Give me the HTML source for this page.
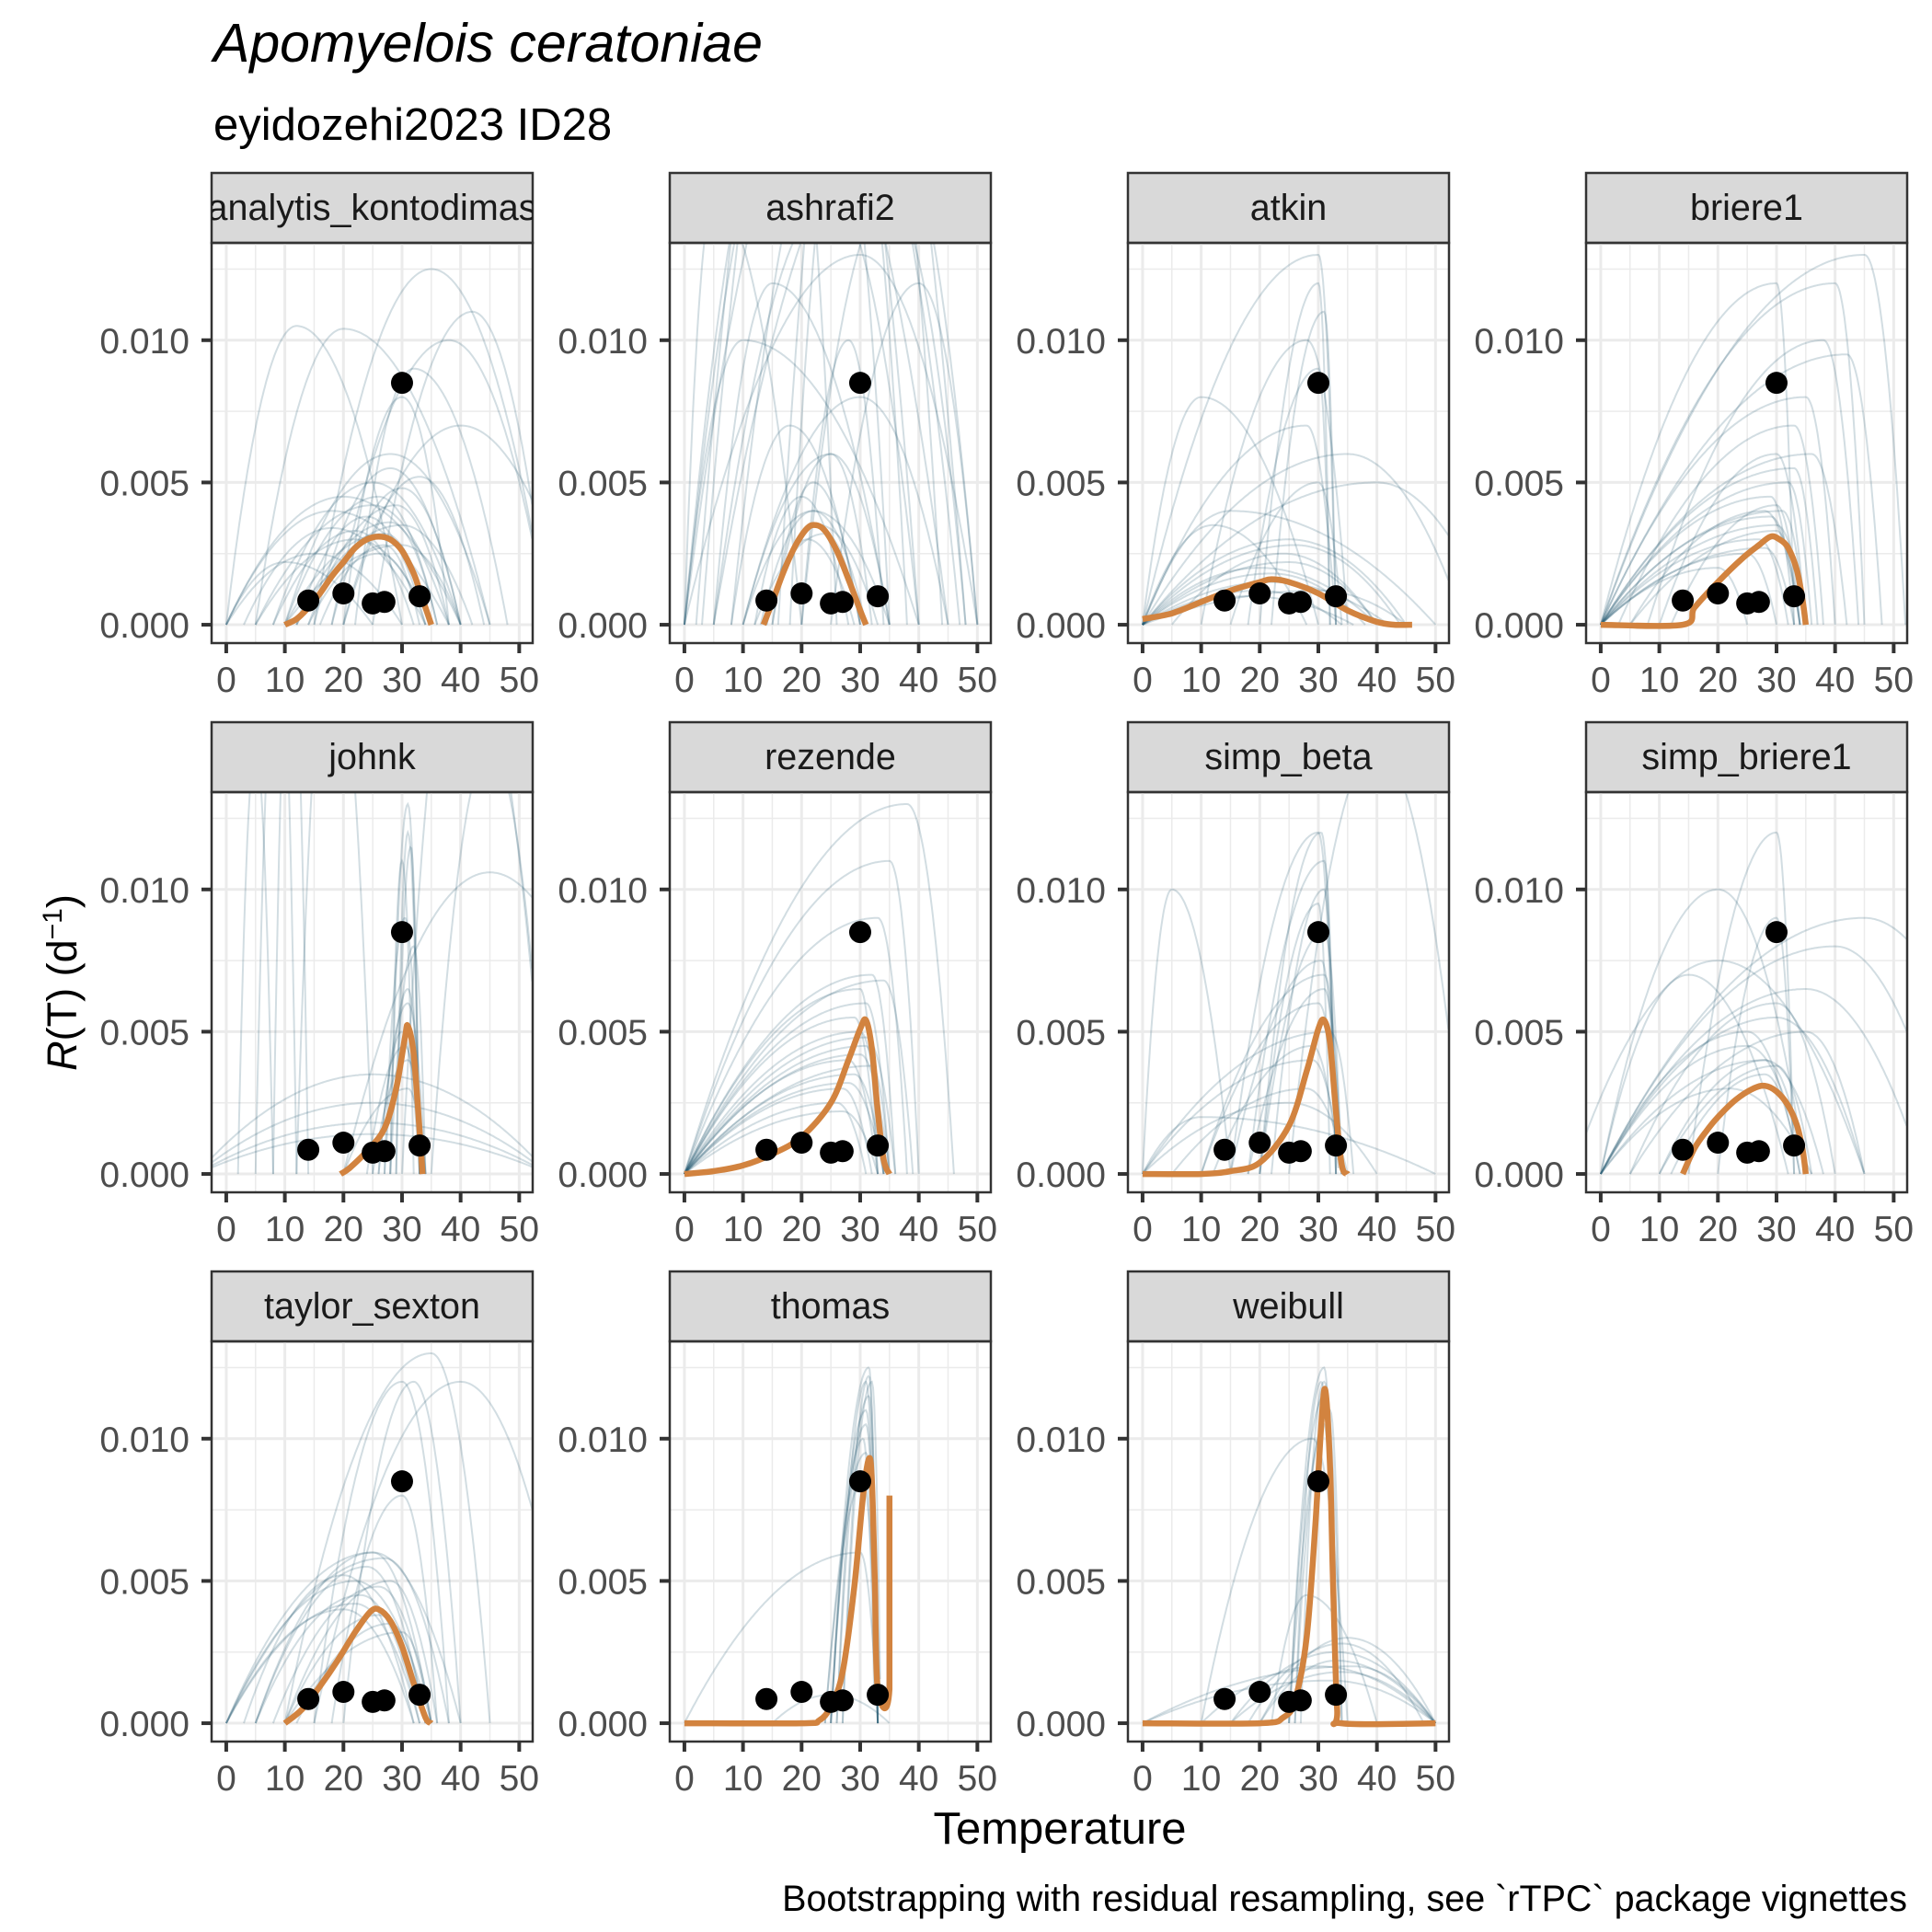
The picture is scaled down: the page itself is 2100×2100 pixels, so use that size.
<!DOCTYPE html>
<html><head><meta charset="utf-8"><style>
html,body{margin:0;padding:0;background:#fff;}
svg{display:block;font-family:"Liberation Sans",Arial,sans-serif;}
</style></head><body>
<svg id="chart" xmlns="http://www.w3.org/2000/svg" width="2100" height="2100" viewBox="0 0 2100 2100">
<rect width="2100" height="2100" fill="#fff"/>
<text x="232" y="67" font-size="59" font-style="italic" fill="#000">Apomyelois ceratoniae</text>
<text x="232" y="152" font-size="49" fill="#000">eyidozehi2023 ID28</text>
<text x="1152" y="2004" font-size="49" text-anchor="middle" fill="#000">Temperature</text>
<text transform="translate(83,1068) rotate(-90)" font-size="45" text-anchor="middle" fill="#000"><tspan font-style="italic">R</tspan>(T) (d<tspan font-size="30" dy="-16">−1</tspan><tspan dy="16">)</tspan></text>
<text x="2073" y="2077" font-size="39.5" text-anchor="end" fill="#000">Bootstrapping with residual resampling, see `rTPC` package vignettes</text>
<g id="panels"></g>
</svg>
<script>
const models = ["analytis_kontodimas","ashrafi2","atkin","briere1","johnk","rezende","simp_beta","simp_briere1","taylor_sexton","thomas","weibull"];
const obsTemp = [14,20,25,27,30,33];
const obsRate = [0.00085,0.0011,0.00075,0.0008,0.0085,0.001];
const xTicks = [0,10,20,30,40,50];
const xTickLabels = ["0","10","20","30","40","50"];
const yTicks = [0,0.005,0.01];
const yTickLabels = ["0.000","0.005","0.010"];
const xMinor = [5,15,25,35,45];
const yMinor = [0.0025,0.0075,0.0125];

const fit_analytis_kontodimas = [[10,0],[12,0.0002],[14,0.0006],[16,0.0011],[18,0.0017],[20,0.0022],[22,0.0027],[24,0.003],[26,0.0031],[28,0.003],[30,0.0026],[32,0.0018],[33,0.0012],[34,0.0006],[35,0]];
const fit_ashrafi2 = [[13.5,0],[15,0.0008],[17,0.0019],[19,0.0028],[21,0.0034],[22.5,0.0035],[24,0.0033],[26,0.0026],[28,0.0016],[30,0.0005],[31,0]];
const fit_atkin = [[0,0.0002],[5,0.0004],[10,0.0008],[15,0.0012],[20,0.0015],[22,0.0016],[25,0.0015],[30,0.0011],[35,0.0005],[40,0.0001],[43,0],[46,0]];
const fit_briere1 = [[0,0],[14,0],[16,0.0006],[20,0.0015],[24,0.0023],[27,0.0028],[29,0.0031],[30.5,0.003],[32,0.0027],[33.5,0.0019],[34.5,0.0008],[35,0]];
const fit_johnk = [[19.5,0],[21,0.0002],[24,0.0008],[27,0.0016],[29,0.003],[30.5,0.0048],[31,0.0052],[32,0.0042],[33,0.0015],[33.5,0]];
const fit_rezende = [[0,0],[5,0.0001],[10,0.0003],[15,0.0007],[20,0.0013],[25,0.0025],[28,0.004],[30,0.0051],[31,0.0054],[32,0.0044],[33,0.0022],[34,0.0005],[35,0]];
const fit_simp_beta = [[0,0],[10,0],[15,0.0001],[20,0.0004],[25,0.0017],[28,0.0036],[30,0.0051],[31,0.0054],[32,0.0046],[33,0.0022],[34,0.0003],[35,0]];
const fit_simp_briere1 = [[14,0],[16,0.0009],[18,0.0015],[20,0.002],[23,0.0026],[26,0.003],[28,0.0031],[30,0.0029],[32,0.0024],[33.5,0.0017],[34.5,0.0008],[35,0]];
const fit_taylor_sexton = [[10,0],[13,0.0005],[16,0.0013],[19,0.0022],[22,0.0032],[24.5,0.0039],[26,0.004],[28,0.0036],[30,0.0027],[32,0.0014],[34,0.0002],[35,0]];
const fit_thomas = [[0,0],[20,0],[23,0.0001],[25,0.0006],[27,0.0018],[29,0.0048],[30.5,0.008],[31.5,0.0093],[32,0.0085],[32.5,0.005],[33,0.0012],[35,0.0012],[35,0.008]];
const fit_weibull = [[0,0],[20,0],[24,0.0002],[26,0.0008],[28,0.003],[29.5,0.007],[30.5,0.0105],[31.2,0.0117],[32,0.009],[32.5,0.005],[33.2,0.0005],[34,0],[50,0]];

const boot_analytis_kontodimas = [[0,12,30,0.0105],[5,20,45,0.0104],[8,25,40,0.005],[0,18,38,0.004],[10,28,45,0.006],[15,35,55,0.0125],[12,30,42,0.0035],[5,22,35,0.003],[18,38,55,0.01],[20,30,38,0.008],[10,26,36,0.0045],[0,15,30,0.0025],[15,28,40,0.0055],[20,40,60,0.007],[12,24,34,0.0038],[22,32,48,0.009],[10,27,35,0.0032],[14,26,34,0.0025],[0,20,40,0.0045],[5,25,38,0.0042],[12,28,36,0.0036],[16,27,33,0.0028],[18,30,40,0.0048],[0,10,25,0.0022],[8,22,32,0.0033],[20,33,44,0.0052],[14,29,38,0.0042],[25,42,55,0.011],[3,18,34,0.0034],[10,30,40,0.0028]];
const boot_ashrafi2 = [[0,20,45,0.02],[5,25,40,0.015],[13,22,31,0.004],[10,25,35,0.006],[0,30,50,0.013],[15,22,30,0.005],[5,15,35,0.012],[18,28,38,0.02],[0,10,40,0.01],[12,20,28,0.0045],[20,35,48,0.015],[8,18,30,0.007],[10,30,45,0.008],[2,25,48,0.03],[14,23,33,0.0035],[25,40,50,0.012],[0,5,20,0.015],[15,25,32,0.006],[3,22,40,0.025],[8,28,47,0.02],[0,18,26,0.02],[16,30,44,0.025],[10,22,35,0.004],[12,24,30,0.0032],[20,28,34,0.01],[5,35,50,0.018],[14,21,29,0.003],[0,25,35,0.02]];
const boot_atkin = [[0,20,40,0.002],[0,25,45,0.003],[0,30,33,0.013],[10,28,35,0.01],[0,15,50,0.004],[0,22,42,0.0015],[20,30,32,0.012],[0,35,55,0.006],[0,10,30,0.008],[5,24,40,0.0025],[0,28,33,0.007],[0,40,60,0.005],[15,30,34,0.005],[0,18,36,0.001],[0,22,38,0.0018],[0,25,40,0.0022],[0,30,45,0.0012],[18,30,32,0.009],[22,31,33,0.011],[0,12,28,0.0035],[0,26,44,0.0028],[0,20,34,0.0012]];
const boot_briere1 = [[0,30,35,0.0035],[0,32,36,0.005],[0,35,40,0.008],[5,28,34,0.004],[0,40,45,0.012],[0,25,30,0.0025],[10,30,35,0.006],[0,45,52,0.013],[0,20,25,0.002],[3,33,38,0.007],[0,29,33,0.0045],[8,38,44,0.01],[0,30,33,0.012],[0,27,32,0.003],[0,31,35,0.004],[0,29,34,0.0038],[5,30,34,0.0033],[0,33,37,0.0055],[0,28,33,0.0027],[0,36,42,0.006],[0,42,48,0.0095],[12,30,34,0.0042]];
const boot_johnk = [[28,31,33,0.013],[29,31,33,0.012],[27,30.5,33,0.009],[26,31,34,0.006],[28,30,32,0.011],[25,31,34,0.004],[20,31,34,0.003],[5,9,12,0.02],[8,11,14,0.02],[30,40,55,0.02],[28,32,34,0.008],[2,5,8,0.015],[35,45,55,0.015],[12,18,25,0.02],[27,31,33.5,0.0065],[26,30,33,0.005],[29,31.5,33,0.0115],[24,30.5,33.5,0.0045],[-5,25,55,0.0014],[-5,25,55,0.0018],[-5,25,55,0.0035],[-5,25,55,0.0025],[20,45,70,0.0106]];
const boot_rezende = [[0,30,34,0.005],[0,31,35,0.006],[0,28,33,0.004],[0,32,36,0.007],[0,29,34,0.0035],[0,33,38,0.009],[0,35,40,0.011],[0,27,32,0.003],[0,30,33,0.0065],[0,38,46,0.013],[0,26,31,0.0025],[0,31,34,0.0045],[0,30,35,0.0042],[0,29,33,0.0055],[0,32,35,0.0038],[0,28,34,0.0032],[0,31,36,0.0048],[0,27,33,0.0022],[0,34,39,0.0068]];
const boot_simp_beta = [[15,30,33,0.012],[20,31,34,0.0085],[10,30,34,0.006],[0,29,34,0.004],[18,31,33,0.011],[5,28,35,0.003],[20,30,32,0.0095],[0,32,36,0.005],[0,10,50,0.002],[25,40,55,0.015],[0,5,15,0.01],[10,31,34,0.007],[15,30.5,33.5,0.0075],[18,31,34,0.0065],[12,29,33.5,0.0045],[22,31,33,0.01],[0,25,40,0.0025],[20,30.5,33,0.012]];
const boot_simp_briere1 = [[0,20,35,0.01],[5,30,40,0.006],[0,25,34,0.005],[10,28,35,0.004],[0,40,60,0.008],[15,30,33,0.012],[0,15,32,0.007],[5,35,45,0.005],[12,28,34,0.0035],[0,22,36,0.003],[20,30,33,0.009],[0,45,70,0.009],[0,28,38,0.004],[0,30,45,0.0055],[-5,20,45,0.0075],[0,25,35,0.0045],[10,30,36,0.0038],[0,35,55,0.0065]];
const boot_taylor_sexton = [[5,25,35,0.006],[10,28,36,0.005],[0,20,32,0.004],[15,30,38,0.012],[5,23,33,0.0045],[10,35,45,0.013],[0,22,35,0.005],[20,32,40,0.012],[10,26,34,0.0038],[0,25,40,0.006],[18,30,36,0.008],[15,40,60,0.012],[5,24,34,0.0055],[0,22,33,0.0042],[8,26,35,0.0048],[3,20,32,0.0052],[12,28,34,0.0035],[0,27,38,0.0058],[10,30,35,0.0032]];
const boot_thomas = [[25,31.5,33,0.0125],[26,31,33,0.012],[25,30.5,32.5,0.01],[24,31,33.5,0.0095],[27,32,33.5,0.012],[0,30,33,0.006],[15,25,35,0.001],[25,31,33,0.011],[26,31.5,33,0.0115],[24,30.5,33,0.0085],[25,31,33,0.0105],[27,31.5,33,0.0122]];
const boot_weibull = [[25,31,33,0.0125],[26,30.5,33,0.012],[20,35,50,0.003],[15,33,50,0.0025],[10,30,50,0.002],[25,32,34,0.011],[0,32,50,0.0015],[22,28,40,0.0045],[18,34,48,0.0028],[27,31,34,0.012],[10,29,35,0.01],[0,36,50,0.002],[20,33,50,0.0022],[25,31,33.5,0.0115],[15,34,50,0.0018],[26,31,33,0.0105]];

const fits = {analytis_kontodimas:fit_analytis_kontodimas,ashrafi2:fit_ashrafi2,atkin:fit_atkin,briere1:fit_briere1,johnk:fit_johnk,rezende:fit_rezende,simp_beta:fit_simp_beta,simp_briere1:fit_simp_briere1,taylor_sexton:fit_taylor_sexton,thomas:fit_thomas,weibull:fit_weibull};
const boots = {analytis_kontodimas:boot_analytis_kontodimas,ashrafi2:boot_ashrafi2,atkin:boot_atkin,briere1:boot_briere1,johnk:boot_johnk,rezende:boot_rezende,simp_beta:boot_simp_beta,simp_briere1:boot_simp_briere1,taylor_sexton:boot_taylor_sexton,thomas:boot_thomas,weibull:boot_weibull};

const NS="http://www.w3.org/2000/svg";
function mk(tag,attrs,parent){const e=document.createElementNS(NS,tag);for(const k in attrs)e.setAttribute(k,attrs[k]);parent.appendChild(e);return e;}
function smooth(pts){
  let d='M'+pts[0][0].toFixed(1)+','+pts[0][1].toFixed(1);
  for(let i=0;i<pts.length-1;i++){
    const p0=pts[Math.max(0,i-1)],p1=pts[i],p2=pts[i+1],p3=pts[Math.min(pts.length-1,i+2)];
    if(Math.abs(p2[0]-p1[0])<0.5){d+='L'+p2[0].toFixed(1)+','+p2[1].toFixed(1);continue;}
    const c1=[p1[0]+(p2[0]-p0[0])/6,p1[1]+(p2[1]-p0[1])/6];
    const c2=[p2[0]-(p3[0]-p1[0])/6,p2[1]-(p3[1]-p1[1])/6];
    d+='C'+c1[0].toFixed(1)+','+c1[1].toFixed(1)+' '+c2[0].toFixed(1)+','+c2[1].toFixed(1)+' '+p2[0].toFixed(1)+','+p2[1].toFixed(1);
  }
  return d;
}
const root=document.getElementById('panels');
const PW=349, STRIPH=76, PH=435, X0=230, Y0=188, DX=498, DY=597;
const TMIN=-2.5, TMAX=52.3, VMIN=-0.000645, VMAX=0.01342;

models.forEach((m,i)=>{
  const col=i%4,row=Math.floor(i/4);
  const left=X0+col*DX, stripTop=Y0+row*DY, top=stripTop+STRIPH, bottom=top+PH;
  const xs=t=>left+(t-TMIN)/(TMAX-TMIN)*PW;
  const ys=v=>bottom-(v-VMIN)/(VMAX-VMIN)*PH;
  const g=mk('g',{},root);
  
  
  const cid='clip'+i;
  const cp=mk('clipPath',{id:cid},g);mk('rect',{x:left,y:top,width:PW,height:PH},cp);
  const scid='sclip'+i;
  const scp=mk('clipPath',{id:scid},g);mk('rect',{x:left,y:stripTop,width:PW,height:STRIPH},scp);
  const strip=mk('rect',{x:left,y:stripTop,width:PW,height:STRIPH,fill:'#d9d9d9',stroke:'#333','stroke-width':2.5},g);
  
  
  const st=mk('text',{x:left+PW/2,y:stripTop+51,'font-size':39.5,'text-anchor':'middle',fill:'#1a1a1a','clip-path':'url(#'+scid+')'},g);
  st.textContent=m;
  
  
  const grid=mk('g',{'clip-path':'url(#'+cid+')'},g);
  
  
  xMinor.forEach(t=>mk('line',{x1:xs(t),x2:xs(t),y1:top,y2:bottom,stroke:'#ebebeb','stroke-width':1.5},grid));
  yMinor.forEach(v=>mk('line',{x1:left,x2:left+PW,y1:ys(v),y2:ys(v),stroke:'#ebebeb','stroke-width':1.5},grid));
  xTicks.forEach(t=>mk('line',{x1:xs(t),x2:xs(t),y1:top,y2:bottom,stroke:'#ebebeb','stroke-width':3},grid));
  yTicks.forEach(v=>mk('line',{x1:left,x2:left+PW,y1:ys(v),y2:ys(v),stroke:'#ebebeb','stroke-width':3},grid));
  const bg=mk('g',{'clip-path':'url(#'+cid+')',fill:'none',stroke:'#1f5570','stroke-opacity':0.2,'stroke-width':2},g);
  
  
  boots[m].forEach(p=>{
    const [tmin,topt,tmax,peak]=p;let d='';
    for(let t=Math.max(TMIN,tmin);t<=Math.min(TMAX,tmax)+1e-9;t+=0.2){
      const w=t<topt?(topt-tmin):(tmax-topt);const u=(t-topt)/w;
      const v=Math.max(0,peak*(1-u*u));
      d+=(d?'L':'M')+xs(t).toFixed(1)+','+ys(v).toFixed(1);
    }
    const pth=mk('path',{d:d},bg);
    
    
  });
  const f=fits[m].map(p=>[xs(p[0]),ys(p[1])]);
  const fp=mk('path',{d:smooth(f),fill:'none',stroke:'#d2833f','stroke-width':6.5,'stroke-linejoin':'round','clip-path':'url(#'+cid+')'},g);
  
  
  obsTemp.forEach((t,k)=>{
    const c=mk('circle',{cx:xs(t),cy:ys(obsRate[k]),r:12,fill:'#000'},g);
    
    
  });
  mk('rect',{x:left,y:top,width:PW,height:PH,fill:'none',stroke:'#333','stroke-width':2.5},g);
  yTicks.forEach((v,k)=>{
    mk('line',{x1:left-11,x2:left,y1:ys(v),y2:ys(v),stroke:'#333','stroke-width':4},g);
    const tx=mk('text',{x:left-24,y:ys(v)+14,'font-size':39,'text-anchor':'end',fill:'#4d4d4d'},g);
    tx.textContent=yTickLabels[k];
    
    
  });
  xTicks.forEach((t,k)=>{
    mk('line',{x1:xs(t),x2:xs(t),y1:bottom,y2:bottom+11,stroke:'#333','stroke-width':4},g);
    const tx=mk('text',{x:xs(t),y:bottom+53,'font-size':39,'text-anchor':'middle',fill:'#4d4d4d'},g);
    tx.textContent=xTickLabels[k];
    
    
  });
});
</script>
</body></html>
